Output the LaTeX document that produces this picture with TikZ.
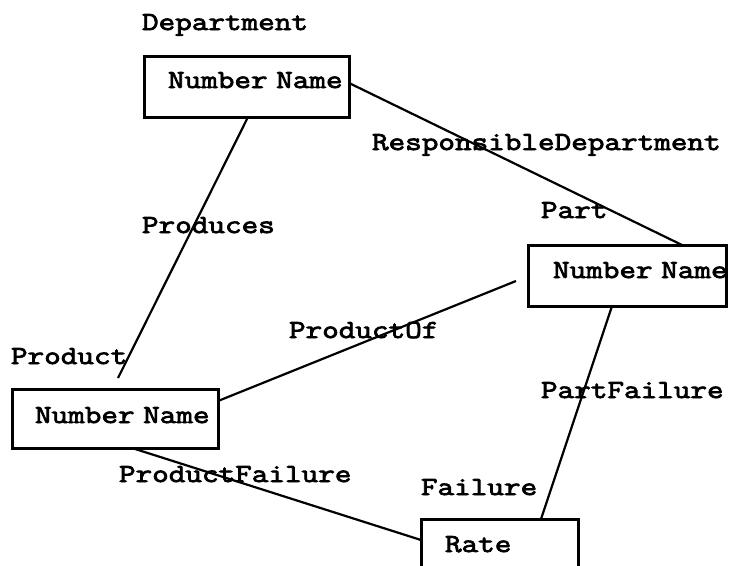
\documentclass[tikz,border=0pt]{standalone}
\usepackage{fontspec}
\setmonofont[FakeStretch=1.24,FakeBold=3]{Latin Modern Mono}
\usetikzlibrary{calc}
\begin{document}
\begin{tikzpicture}[x=1pt,y=-1pt,
  box/.style={draw,line width=3pt,rectangle,inner sep=0pt,outer sep=0pt,anchor=north west},
  lbl/.style={anchor=base west,inner sep=0pt,outer sep=0pt,font=\ttfamily\fontsize{26}{31}\selectfont},
  conn/.style={line width=2.2pt}]
\useasboundingbox (0,0) rectangle (731,565);
\clip (0,0) rectangle (731,565);
% boxes
\node[box,minimum width=205pt,minimum height=61pt] (dept) at (144,56) {};
\node[box,minimum width=198pt,minimum height=61pt] (part) at (528,245) {};
\node[box,minimum width=206pt,minimum height=59pt] (prod) at (12,389) {};
\node[box,minimum width=157pt,minimum height=62pt] (rate) at (421,519) {};
% box texts
\node[lbl] (deptattr) at (168,88) {Number\hspace{-8pt} Name};
\node[lbl] (partattr) at (553,278) {Number\hspace{-8pt} Name};
\node[lbl] (prodattr) at (35,423) {Number\hspace{-8pt} Name};
\node[lbl] (rateattr) at (445,552) {Rate};
% entity names
\node[lbl] (deptname) at (142,30) {Department};
\node[lbl] (partname) at (541,218) {Part};
\node[lbl] (prodname) at (11,364) {Product};
\node[lbl] (ratename) at (421,495) {Failure};
% relationship labels
\node[lbl] (resp) at (372,150) {ResponsibleDepartment};
\node[lbl] (produces) at (142,233) {Produces};
\node[lbl] (prodof) at (289,338) {ProductOf};
\node[lbl] (partfail) at (541,398) {PartFailure};
\node[lbl] (prodfail) at (119,482) {ProductFailure};
% free ends
\coordinate (producesEnd) at (118,378);
\coordinate (prodofEnd) at (516,281);
% connectors
\draw[conn] ($(dept.south west)+(104,0)$) -- (producesEnd);
\draw[conn] ($(dept.north east)+(0,27)$) -- ($(part.north west)+(154,0)$);
\draw[conn] ($(prod.north east)+(0,12)$) -- (prodofEnd);
\draw[conn] ($(part.south west)+(84,0)$) -- ($(rate.north west)+(120,0)$);
\draw[conn] ($(prod.south west)+(120,0)$) -- ($(rate.north west)+(0,21)$);
\end{tikzpicture}
\end{document}
